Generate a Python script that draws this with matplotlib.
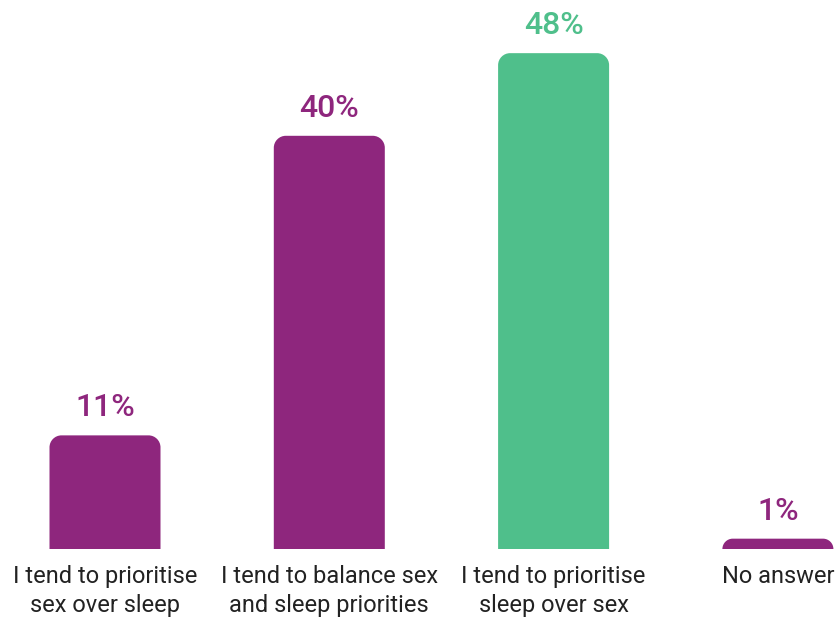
import matplotlib
matplotlib.use("Agg")
import matplotlib.pyplot as plt
from matplotlib.path import Path
from matplotlib.patches import PathPatch

plt.rcParams['font.family'] = ['Roboto', 'DejaVu Sans']

categories = ["I tend to prioritise\nsex over sleep",
              "I tend to balance sex\nand sleep priorities",
              "I tend to prioritise\nsleep over sex",
              "No answer"]
values = [11, 40, 48, 1]
labels = ["11%", "40%", "48%", "1%"]
colors = ["#8E267D", "#8E267D", "#4FBF8B", "#8E267D"]

W, H = 836, 618
fig = plt.figure(figsize=(W / 100, H / 100), dpi=100)

# pixel geometry of the plotting area
base_px = 549
px_per_unit_x = 224.3
px_per_unit_y = 10.33
first_center = 105
ax = fig.add_axes([0, (H - base_px) / H, 1, base_px / H])
ax.set_xlim(-first_center / px_per_unit_x, (W - first_center) / px_per_unit_x)
ax.set_ylim(0, base_px / px_per_unit_y)
ax.axis('off')

bar_w = 111 / px_per_unit_x
radius_px = 12


def rounded_bar(ax, x, h, w, color):
    r_px = min(radius_px, h * px_per_unit_y)
    rx = r_px / px_per_unit_x
    ry = r_px / px_per_unit_y
    x0, x1 = x - w / 2, x + w / 2
    k = 0.5523
    verts = [(x0, 0), (x0, h - ry),
             (x0, h - ry + k * ry), (x0 + rx - k * rx, h), (x0 + rx, h),
             (x1 - rx, h),
             (x1 - rx + k * rx, h), (x1, h - ry + k * ry), (x1, h - ry),
             (x1, 0), (x0, 0)]
    codes = [Path.MOVETO, Path.LINETO,
             Path.CURVE4, Path.CURVE4, Path.CURVE4,
             Path.LINETO,
             Path.CURVE4, Path.CURVE4, Path.CURVE4,
             Path.LINETO, Path.CLOSEPOLY]
    ax.add_patch(PathPatch(Path(verts, codes), facecolor=color, edgecolor='none'))


for i, (v, lab, c) in enumerate(zip(values, labels, colors)):
    rounded_bar(ax, i, v, bar_w, c)
    ax.annotate(lab, (i, v), xytext=(0, 13), textcoords='offset pixels',
                ha='center', va='bottom', fontsize=23, fontweight='medium',
                color=c)
    ax.annotate(categories[i], (i, 0), xytext=(0, -16), textcoords='offset pixels',
                ha='center', va='top', fontsize=17, color='#222222',
                linespacing=1.32, annotation_clip=False)

fig.savefig("out.png", dpi=100)
